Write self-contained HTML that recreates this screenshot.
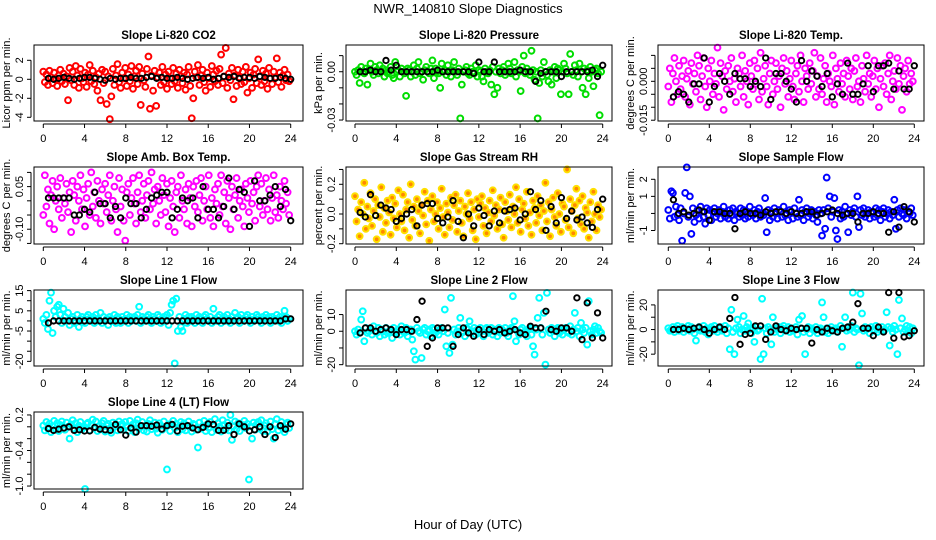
<!DOCTYPE html>
<html><head><meta charset="utf-8"><style>
html,body{margin:0;padding:0;background:#fff;}
svg{display:block;font-family:"Liberation Sans",Arial,sans-serif;}
</style></head><body>
<svg id="chart" width="936" height="540" viewBox="0 0 936 540" xmlns="http://www.w3.org/2000/svg">
<text x="468" y="13" text-anchor="middle" font-size="13">NWR_140810  Slope Diagnostics</text>
<text x="468" y="529" text-anchor="middle" font-size="13">Hour of Day (UTC)</text>
</svg>
<script>
// ---- data (colored: every 0.15 h; black: every 0.5 h from 0.5) ----
const xTickLabels = [0,4,8,12,16,20,24];
const co2Vals = [8,-3,5,-6,9,2,-4,7,0,-7,4,10,-2,6,-5,3,-22,12,-1,8,
 -6,14,4,-9,11,1,-3,7,-8,5,15,-2,9,-5,2,-12,6,-22,10,-4,
 8,-26,3,-42,-18,11,-6,4,16,-3,-9,7,1,12,-7,5,-2,14,-10,3,
 9,-5,13,-27,6,-1,-8,11,24,-31,4,-12,9,-28,2,7,-6,13,-3,5,
 -10,8,1,-5,12,-2,6,-9,10,3,-4,7,-11,5,13,-7,-41,-20,8,2,
 15,-6,4,10,-3,-12,7,1,-8,14,5,-2,9,-6,11,26,-4,3,33,-9,
 6,-1,12,-21,4,-7,10,2,-5,8,-3,13,-14,1,7,-9,5,11,-4,21,
 3,-6,9,-2,6,-10,12,1,-5,8,2,22,-3,7,-8,4,10,-1,5,-2];
const co2Blk = [1,0,1,2,1,0,1,2,2,1,0,-1,1,0,1,1,2,1,1,2,3,1,2,1,1,2,1,0,1,2,1,2,0,1,3,2,3,1,2,2,1,3,2,1,1,2,1,0];
const presVals = [0,-2,1,-7,3,0,-1,2,-8,1,5,0,-2,3,1,-1,4,0,2,-3,
 1,-1,0,3,-2,-4,6,0,1,-3,2,0,-1,-15,2,1,-3,0,4,-2,
 2,6,-1,0,-5,1,3,0,-1,2,7,-4,2,0,-1,-10,5,0,1,-2,
 4,0,-3,1,6,0,-2,2,-29,-8,0,1,3,-1,-2,2,0,-1,4,-3,
 1,0,-3,-6,2,0,-1,1,-8,3,-14,0,-10,2,-1,1,3,-2,0,5,
 2,-1,0,6,-3,1,0,-12,3,10,-1,2,0,-2,13,1,-5,0,-29,-7,
 1,-3,6,0,-2,-6,1,-8,0,3,-4,2,1,-14,0,5,2,-1,-14,11,
 0,-2,4,1,-3,5,0,-10,2,-14,1,-4,3,0,-9,1,2,-1,-27,0];
const presBlk = [0,0,1,0,0,7,1,4,0,0,0,0,0,0,0,1,0,0,0,0,0,0,-1,6,0,0,6,0,0,0,0,1,0,0,-6,-1,0,0,0,-3,0,0,0,0,0,1,-3,4];
const tempVals = [-2,5,-8,3,9,0,-5,6,-3,2,8,-6,1,4,-9,7,-1,3,-4,10,
 6,-7,2,9,-2,-10,5,0,8,-5,3,-1,13,-6,7,2,-11,4,-3,6,
 0,9,-4,1,-8,5,3,-2,10,-6,4,0,-9,7,2,-3,8,-1,5,-7,
 11,-4,1,6,-2,-9,3,8,-5,0,7,-3,2,-10,5,9,-1,4,-6,1,
 8,-2,-7,3,6,-4,10,0,-8,5,2,-3,7,-1,4,11,-6,2,-3,9,
 -5,1,6,-8,3,0,-2,10,-9,5,1,-4,7,-1,3,-6,8,2,-3,5,
 -7,4,9,-2,0,-8,6,1,-4,10,-1,3,-6,2,8,-3,5,-10,1,6,
 -2,7,-5,3,10,-7,0,4,-3,9,-1,6,-11,2,5,-4,8,-1,3,0];
const tempBlk = [-6,-4,-5,-8,-1,-1,9,-8,-2,3,0,-5,3,1,1,-2,0,-2,9,-7,3,3,0,-3,-8,8,0,4,2,-2,3,-6,-1,-5,7,-5,-5,-1,6,-4,6,6,7,-3,4,-3,-3,6];
const ambVals = [-5,9,-2,4,-8,2,7,-10,0,5,-3,8,-6,1,-1,6,-4,3,-11,7,
 2,-7,5,0,9,-3,4,-9,1,6,-5,10,-2,3,-6,7,0,-8,4,-1,
 6,-4,2,9,-7,0,5,-3,-11,8,-2,4,-7,-14,3,6,-5,1,8,-1,
 -8,3,9,-4,0,6,-6,2,7,-3,10,-1,4,-8,5,0,-5,8,2,-4,
 6,-9,1,7,-2,-11,3,5,-6,9,0,-3,4,-8,6,1,-9,5,-2,7,
 -4,2,8,-7,0,5,-3,9,-6,1,-9,4,-1,6,-5,9,-2,3,-8,7,
 1,-10,5,-3,2,8,-6,0,4,-2,-9,6,1,-4,7,-1,3,-7,5,9,
 -2,6,-5,0,8,-3,4,-7,1,9,-4,2,-6,5,0,-3,7,-1,3,-5];
const ambBlk = [1,1,1,1,1,-5,-5,-3,-4,3,-1,-1,-6,-2,-6,1,-1,-1,-6,-3,1,2,3,3,-6,-3,1,0,1,-6,5,-3,-3,-6,-2,8,-3,4,3,-9,7,0,0,2,5,-2,4,-7];
const rhVals = [12,-5,3,-15,8,0,21,-10,5,-3,14,-8,2,10,-17,6,-2,18,-12,4,
 -6,9,1,-14,11,-3,7,-9,16,0,-5,13,-11,3,8,-16,20,-4,5,-8,
 10,2,-13,6,-1,15,-7,9,-18,3,12,-5,0,8,-10,4,17,-2,-14,7,
 1,-9,11,-4,6,13,-12,2,9,-6,-15,5,0,14,-3,8,-11,3,-17,10,
 -2,7,12,-8,4,-13,1,9,-5,16,-1,6,-10,3,11,-7,-16,8,2,-4,
 13,-9,5,0,18,-6,10,-12,3,7,-3,15,-8,1,-14,9,4,-6,12,-1,
 6,-11,2,21,-5,8,-15,3,11,-2,-8,14,0,-12,7,5,-4,30,-9,10,
 2,-13,6,17,-3,9,-7,12,-10,4,1,-16,8,-5,15,0,-11,6,-2,3];
const rhBlk = [1,-2,13,-1,6,4,3,-5,-3,0,3,-8,6,7,7,-3,-6,-2,9,-5,-16,0,-8,4,-1,-8,2,-6,2,3,4,-4,0,15,3,9,-11,5,-6,11,-3,2,-4,-2,-6,-9,3,10];
const flowVals = [2,-3,13,12,-2,4,-1,-4,3,-16,0,12,27,-2,10,-12,3,-5,-1,2,
 -3,4,1,-2,-6,3,-1,2,-4,1,3,-2,0,2,-3,1,4,-2,0,-3,
 2,-1,3,-4,1,0,-2,3,-1,2,-3,1,-2,4,0,-1,2,-3,1,3,
 -2,0,-1,9,-11,2,-4,1,-2,3,0,-3,2,1,-2,4,-1,0,-4,2,
 1,-3,3,0,-2,8,-1,2,-4,1,3,-2,0,2,-3,1,-1,-5,2,0,
 -13,2,-9,21,3,10,-2,1,9,-10,-15,2,-3,1,-2,4,0,-11,2,-1,
 1,3,-2,10,-8,2,-1,3,-2,0,2,-3,1,0,-2,3,-1,2,-4,1,
 3,-2,0,2,-3,1,-1,8,-9,2,-2,3,0,-1,2,-3,1,0,3,-1];
const flowBlk = [8,0,1,-1,0,2,1,-4,1,1,0,0,-9,0,1,0,0,-1,1,0,1,1,0,1,0,0,1,1,-1,0,1,2,0,-1,0,0,-5,0,0,1,0,0,-11,1,-8,4,1,-5];
const l1Vals = [1,-1,3,-4,10,14,-6,5,2,7,8,3,-1,6,2,0,4,-2,1,2,
 -1,0,3,-3,1,2,0,-1,2,3,1,0,2,-1,3,1,0,4,-1,2,
 0,1,-2,2,1,0,3,-1,2,1,-1,2,0,1,3,-1,2,0,1,2,
 0,3,7,-1,2,1,0,2,3,1,-1,2,1,0,3,2,-1,1,2,0,
 3,-2,4,8,10,-21,11,-5,2,-3,-5,1,3,-1,2,0,2,1,-1,3,
 0,2,1,-1,2,3,1,0,2,-1,6,1,0,2,3,-1,1,2,0,3,
 1,-1,2,0,4,1,2,-1,3,1,0,2,3,1,-1,2,0,1,3,2,
 1,-1,2,0,3,1,2,-1,2,0,1,3,0,2,-1,1,5,2,0,1];
const l1Blk = [-1,0,0,0,0,0,0,0,0,0,0,0,0,0,0,0,0,0,0,0,0,0,0,0,0,0,0,0,0,0,0,0,0,0,0,0,0,0,0,0,0,0,0,0,0,0,1,1];
const l2Vals = [0,-2,1,-1,7,12,-6,2,-1,0,1,-2,3,0,-1,2,-3,1,0,-2,
 2,-1,0,1,-4,2,0,-1,1,-2,3,0,-1,2,-3,0,1,-5,-12,-17,
 2,0,-1,-16,1,2,-2,0,1,-3,2,1,-1,0,-2,1,2,0,13,-9,
 -1,-13,20,-8,1,-2,0,2,8,-1,0,-3,2,1,6,-1,0,2,-2,1,
 -1,2,0,-3,1,2,-1,0,2,-2,1,0,-3,2,-1,1,0,2,-1,-3,
 1,2,21,6,-6,0,-2,1,2,-1,0,-3,1,2,-2,-9,-14,1,8,20,
 2,-2,11,-20,23,1,-1,2,0,-3,1,2,-1,0,-2,1,2,0,-1,3,
 -2,1,11,0,2,-3,5,1,-1,2,-8,18,0,-2,1,3,-1,2,0,-1];
const l2Blk = [-1,2,2,0,1,2,1,-2,1,1,0,7,18,-9,-4,2,2,2,-9,-2,2,-1,-3,1,-2,1,0,1,-1,0,1,-1,-2,3,2,2,12,1,0,2,2,0,20,-5,17,-4,11,-4];
const l3Vals = [1,-1,0,2,-2,1,3,-1,0,2,-2,1,0,3,-1,2,0,-3,-9,1,
 2,-1,0,3,-2,1,-4,0,2,-1,3,0,-2,1,2,-1,0,3,-3,1,
 -16,16,-2,-20,1,8,2,-3,0,11,-1,2,5,0,-3,1,-10,2,-1,0,
 -24,25,-20,1,-3,2,0,-12,10,-2,1,0,2,-3,1,3,-1,0,2,-2,
 1,-1,0,2,-4,8,1,11,-2,-20,0,2,-3,1,0,-1,2,-3,0,1,
 22,10,-2,1,-3,0,2,-1,0,1,-2,0,3,-14,1,10,-1,2,0,3,
 30,-2,1,0,-29,29,13,-1,2,0,1,-3,2,0,-1,3,-2,1,0,2,
 -1,0,14,2,-13,1,-2,3,0,-20,24,1,9,-2,0,3,-1,2,-3,1];
const l3Blk = [0,0,1,0,1,2,0,-3,0,2,0,9,26,-12,-4,-3,3,3,-8,-2,3,0,-1,1,0,1,1,-11,0,-2,1,-1,-2,1,2,6,21,1,1,-5,2,-2,30,-7,30,-6,-5,-1];
const l4Vals = [2,-6,8,-3,5,-9,1,10,-4,6,-7,3,9,-2,-5,7,0,-20,4,11,
 -3,6,-9,2,8,-4,-1,-105,5,7,-6,3,12,-2,9,-7,1,-4,6,10,
 -8,2,5,-3,-10,7,0,4,-6,9,3,5,-5,8,1,-7,10,-2,4,-9,
 6,12,-3,0,8,-6,2,-8,5,11,-4,1,7,-3,-10,6,2,-5,9,0,
 -72,4,-7,3,10,-2,5,-9,1,8,-4,6,-6,2,9,-1,-8,5,3,-5,
 -35,7,-3,1,10,-7,4,-2,8,-9,2,13,-5,6,0,-8,11,3,-4,7,
 -6,20,-22,1,9,-4,6,-7,3,3,10,-2,5,-89,1,-20,7,-5,4,8,
 -3,11,-7,2,6,-8,0,9,-4,-20,5,13,-6,1,8,-3,-9,4,7,-2];
const l4Blk = [-3,-6,-4,-2,0,-6,-5,-7,-7,-1,-4,-5,-6,4,-5,-14,-2,-9,2,2,1,3,-4,2,4,-7,1,2,-2,-5,-1,5,4,-6,-6,2,-13,5,0,-7,-5,0,-13,0,-18,2,-4,5];

// ---- layout ----
const COLS=[{l:34,r:303,x0:43.3,x24:290.7},{l:346,r:612,x0:355,x24:602.7},{l:658,r:924,x0:668.3,x24:914.3}];
const ROWS=[{t:45,b:121},{t:167,b:244},{t:290,b:366},{t:412,b:489}];
const panels=[
 {name:'co2',title:'Slope Li-820 CO2',ylab:'Licor ppm per min.',c:0,r:0,ymin:-4.39,ymax:3.61,ticks:[-4,-2,0,2],labels:['-4','-2','0','2'],unit:0.1,col:'#ff0000',vals:co2Vals,blk:co2Blk},
 {name:'pressure',title:'Slope Li-820 Pressure',ylab:'kPa per min.',c:1,r:0,ymin:-0.0306,ymax:0.0166,ticks:[-0.03,-0.02,-0.01,0,0.01],labels:['-0.03','','','0.00',''],unit:0.001,col:'#00dd00',vals:presVals,blk:presBlk},
 {name:'li820-temp',title:'Slope Li-820 Temp.',ylab:'degrees C per min.',c:2,r:0,ymin:-0.0153,ymax:0.0140,ticks:[-0.015,-0.01,-0.005,0,0.005,0.01],labels:['-0.015','','','0.000','',''],unit:0.001,col:'#ff00ff',vals:tempVals,blk:tempBlk},
 {name:'amb-box-temp',title:'Slope Amb. Box Temp.',ylab:'degrees C per min.',c:0,r:1,ymin:-0.152,ymax:0.119,ticks:[-0.15,-0.1,-0.05,0,0.05,0.1],labels:['','-0.10','','','0.05',''],unit:0.01,col:'#ff00ff',vals:ambVals,blk:ambBlk},
 {name:'gas-stream-rh',title:'Slope Gas Stream RH',ylab:'percent per min.',c:1,r:1,ymin:-0.202,ymax:0.3165,ticks:[-0.2,-0.1,0,0.1,0.2,0.3],labels:['-0.2','','0.0','','0.2',''],unit:0.01,col:'rh',vals:rhVals,blk:rhBlk},
 {name:'sample-flow',title:'Slope Sample Flow',ylab:'ml/min per min.',c:2,r:1,ymin:-1.79,ymax:2.72,ticks:[-1,0,1,2],labels:['-1','','1','2'],unit:0.1,col:'#0000ff',vals:flowVals,blk:flowBlk},
 {name:'line1-flow',title:'Slope Line 1 Flow',ylab:'ml/min per min.',c:0,r:2,ymin:-22.3,ymax:15.3,ticks:[-20,-15,-10,-5,0,5,10,15],labels:['-20','','','-5','','5','','15'],unit:1,col:'#00ffff',vals:l1Vals,blk:l1Blk},
 {name:'line2-flow',title:'Slope Line 2 Flow',ylab:'ml/min per min.',c:1,r:2,ymin:-20.8,ymax:24.7,ticks:[-20,-10,0,10],labels:['-20','','0','10'],unit:1,col:'#00ffff',vals:l2Vals,blk:l2Blk},
 {name:'line3-flow',title:'Slope Line 3 Flow',ylab:'ml/min per min.',c:2,r:2,ymin:-29.6,ymax:32.1,ticks:[-20,-10,0,10,20],labels:['-20','','0','','20'],unit:1,col:'#00ffff',vals:l3Vals,blk:l3Blk},
 {name:'line4-flow',title:'Slope Line 4 (LT) Flow',ylab:'ml/min per min.',c:0,r:3,ymin:-1.05,ymax:0.25,ticks:[-1,-0.8,-0.6,-0.4,-0.2,0,0.2],labels:['-1.0','','','-0.4','','','0.2'],unit:0.01,col:'#00ffff',vals:l4Vals,blk:l4Blk}
];
const NS='http://www.w3.org/2000/svg';
const svg=document.getElementById('chart');
function mk(tag,attrs,parent){const e=document.createElementNS(NS,tag);for(const k in attrs)e.setAttribute(k,attrs[k]);(parent||svg).appendChild(e);return e;}

panels.forEach(p=>{
  const C=COLS[p.c],R=ROWS[p.r];
  const xs=v=>C.x0+(C.x24-C.x0)*v/24;
  const ys=v=>R.b-(v-p.ymin)/(p.ymax-p.ymin)*(R.b-R.t);
  const g=mk('g',{});
  
  
  const t=mk('text',{x:(C.l+C.r)/2,y:R.t-6,'text-anchor':'middle','font-size':'11.5','font-weight':'bold'},g);
  t.textContent=p.title;
  
  
  const mg=mk('g',{},g);
  
  
  p.vals.forEach((v,i)=>{
    const cx=xs(i*0.15),cy=ys(v*p.unit);
    let c;
    if(p.col==='rh'){c=mk('circle',{cx:cx,cy:cy,r:2.9,fill:'#ff8800',stroke:'#ffe000','stroke-width':2},mg);}
    else{c=mk('circle',{cx:cx,cy:cy,r:2.9,fill:'none',stroke:p.col,'stroke-width':2},mg);}
    
    
  });
  const bg=mk('g',{},g);
  
  
  p.blk.forEach((v,i)=>{
    const c=mk('circle',{cx:xs(0.5*(i+1)),cy:ys(v*p.unit),r:2.7,fill:'none',stroke:'#000','stroke-width':1.9},bg);
    
    
  });
  const fr=mk('rect',{x:C.l,y:R.t,width:C.r-C.l,height:R.b-R.t,fill:'none',stroke:'#000','stroke-width':1},g);
  
  
  const xa=mk('g',{},g);
  
  
  mk('line',{x1:xs(0),x2:xs(24),y1:R.b+3,y2:R.b+3,stroke:'#000'},xa);
  xTickLabels.forEach(v=>{
    mk('line',{x1:xs(v),x2:xs(v),y1:R.b+3,y2:R.b+7,stroke:'#000'},xa);
    const tl=mk('text',{x:xs(v),y:R.b+21,'text-anchor':'middle','font-size':'11'},xa);
    tl.textContent=v;
    
    
  });
  const ya=mk('g',{},g);
  
  
  const ax=C.l-3;
  mk('line',{x1:ax,x2:ax,y1:ys(p.ticks[0]),y2:ys(p.ticks[p.ticks.length-1]),stroke:'#000'},ya);
  p.ticks.forEach((v,i)=>{
    const y=ys(v);
    mk('line',{x1:ax-4,x2:ax,y1:y,y2:y,stroke:'#000'},ya);
    if(p.labels[i]){
      const tl=mk('text',{x:0,y:0,'text-anchor':'middle','font-size':'11',transform:`translate(${ax-8},${y}) rotate(-90)`},ya);
      tl.textContent=p.labels[i];
      
      
    }
  });
  const yl=mk('text',{x:0,y:0,'text-anchor':'middle','font-size':'11',transform:`translate(${C.l-24},${(R.t+R.b)/2}) rotate(-90)`},g);
  yl.textContent=p.ylab;
  
  
});
</script>
</body></html>
